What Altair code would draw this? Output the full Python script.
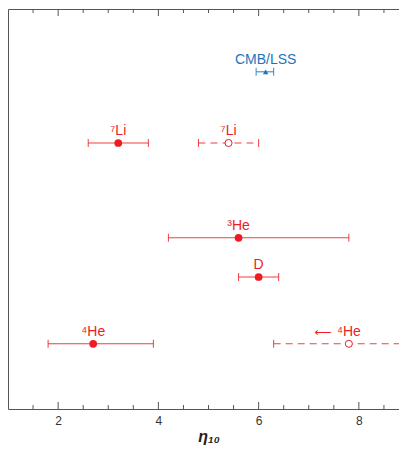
import altair as alt
import pandas as pd

# ---- data ----
labels = ["CMB/LSS", "⁷Li", "⁷Li", "³He", "D", "⁴He", "⁴He"]
center = [6.14, 3.2, 5.4, 5.6, 6.0, 2.7, 7.8]
low = [5.95, 2.6, 4.8, 4.2, 5.6, 1.8, 6.3]
high = [6.3, 3.8, 6.0, 7.8, 6.4, 3.9, 9.6]
row = [8.43, 6.65, 6.65, 4.28, 3.30, 1.63, 1.63]
kind = ["cmb", "filled", "open", "filled", "filled", "filled", "open"]
probe = ["cmb", "bbn", "bbn", "bbn", "bbn", "bbn", "bbn"]

major_ticks = [2, 4, 6, 8]
minor_ticks = [1.5, 2.5, 3, 3.5, 4.5, 5, 5.5, 6.5, 7, 7.5, 8.5]

df = pd.DataFrame({"label": labels, "center": center, "low": low, "high": high,
                   "row": row, "kind": kind, "probe": probe})
ticks_df = pd.DataFrame({"v": major_ticks + minor_ticks,
                         "t": ["major"] * len(major_ticks) + ["minor"] * len(minor_ticks)})

RED = "#ed1c24"
BLUE = "#1b75bb"
AX = "#555555"
FONT = "Liberation Sans"
W, H = 401, 400
MAJ, MIN = 7, 4

xscale = alt.Scale(domain=[1, 9], nice=False, zero=False)
yscale = alt.Scale(domain=[0, 10], nice=False, zero=False)
color = alt.Color("probe:N", scale=alt.Scale(domain=["bbn", "cmb"], range=[RED, BLUE]), legend=None)
Y = alt.Y("row:Q", scale=yscale, axis=None)

ax = alt.Axis(orient="bottom", values=major_ticks, ticks=False, domain=False, grid=False,
              labelFontSize=12, labelColor="#333", labelFont=FONT, labelPadding=6,
              title="η₁₀", titleFontSize=16, titleFontWeight="bold", titleFontStyle="italic",
              titleColor="#222", titleFont=FONT, titlePadding=2)


def X(field):
    return alt.X(field, scale=xscale, axis=ax)


base = alt.Chart(df)
tbase = alt.Chart(ticks_df)

# inward frame ticks (bottom and top), positioned by the x scale
tick_layers = []
for t, L in (("major", MAJ), ("minor", MIN)):
    f = tbase.transform_filter(alt.datum.t == t)
    tick_layers.append(f.mark_rule(color=AX, strokeWidth=1).encode(
        x=X("v:Q"), y=alt.value(H), y2=alt.value(H - L)))
    tick_layers.append(f.mark_rule(color=AX, strokeWidth=1).encode(
        x=X("v:Q"), y=alt.value(0), y2=alt.value(L)))

rule_solid = base.transform_filter(alt.datum.kind != "open").mark_rule(strokeWidth=1.1, opacity=0.85).encode(
    x=X("low:Q"), x2="high:Q", y=Y, color=color)
rule_dash = base.transform_filter(alt.datum.kind == "open").mark_rule(
    strokeWidth=1.1, opacity=0.85, strokeDash=[7, 5], clip=True).encode(
    x=X("low:Q"), x2="high:Q", y=Y, color=color)
cap_lo = base.mark_tick(orient="vertical", size=8, thickness=1, opacity=0.85).encode(
    x=X("low:Q"), y=Y, color=color)
cap_hi = base.mark_tick(orient="vertical", size=8, thickness=1, opacity=0.85, clip=True).encode(
    x=X("high:Q"), y=Y, color=color)
pts_filled = base.transform_filter(alt.datum.kind == "filled").mark_point(
    shape="circle", filled=True, size=60, opacity=1).encode(
    x=X("center:Q"), y=Y, color=color)
pts_open = base.transform_filter(alt.datum.kind == "open").mark_point(
    shape="circle", filled=True, fill="white", stroke=RED, strokeWidth=1, size=50, opacity=1).encode(
    x=X("center:Q"), y=Y)
tri = base.transform_filter(alt.datum.kind == "cmb").mark_point(
    shape="triangle-up", filled=True, size=30, opacity=1).encode(
    x=X("center:Q"), y=Y, color=color)
txt = base.mark_text(dy=-8, baseline="alphabetic", fontSize=14, font=FONT).encode(
    x=X("center:Q"), y=Y, text="label:N", color=color)
arrow = base.transform_filter((alt.datum.kind == "open") & (alt.datum.label == "⁴He")).mark_text(
    dx=-26, dy=-8, baseline="alphabetic", fontSize=12, font="DejaVu Sans", color=RED).encode(
    x=X("center:Q"), y=Y, text=alt.value("⟵"))

chart = alt.layer(rule_solid, *tick_layers, rule_dash, cap_lo, cap_hi, pts_filled, pts_open, tri, txt, arrow
).resolve_scale(x="shared", y="shared").properties(
    width=W, height=H, padding={"left": 0, "top": 0, "right": -10, "bottom": 1}
).configure_view(stroke=AX, strokeWidth=1)

chart.save("out.html", embed_options={"renderer": "svg", "actions": False})
